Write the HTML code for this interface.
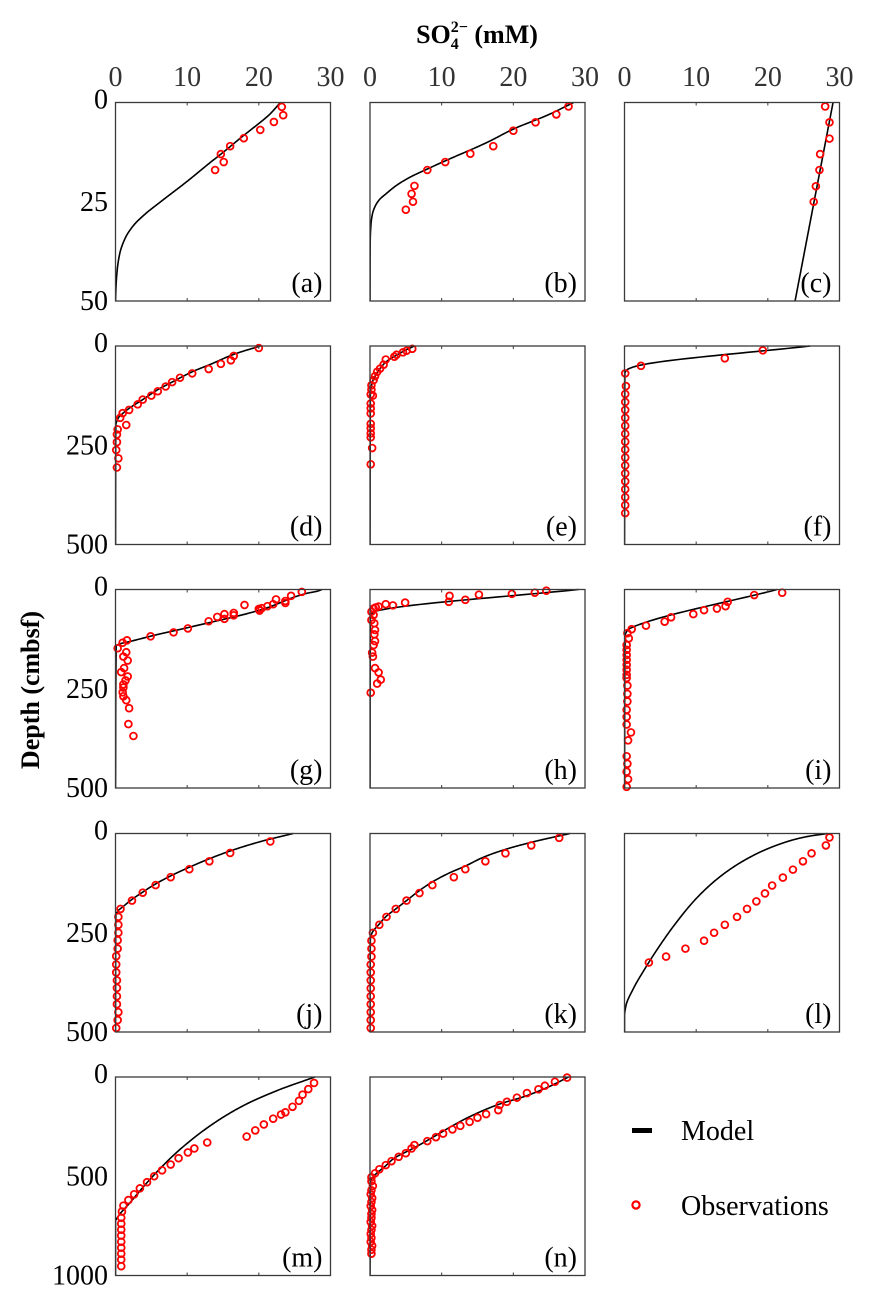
<!DOCTYPE html>
<html><head><meta charset="utf-8">
<style>
html,body{margin:0;padding:0;background:#fff;}
svg{display:block;}
text{font-family:"Liberation Serif","Times New Roman",serif;}
</style></head>
<body>
<svg id="fig" width="872" height="1300" viewBox="0 0 872 1300" xmlns="http://www.w3.org/2000/svg" font-family="Liberation Serif, serif">
<text x="477" y="43" text-anchor="middle" font-weight="bold" font-size="26">SO<tspan font-size="16" dy="6">4</tspan><tspan font-size="16" dx="-8" dy="-17">2−</tspan><tspan dy="11"> (mM)</tspan></text>
<text transform="translate(39,690) rotate(-90)" text-anchor="middle" font-weight="bold" font-size="26">Depth (cmbsf)</text>
<g id="panels"></g>
<g>
<rect x="632" y="1128" width="20" height="5" fill="#000"/>
<text x="681" y="1140" font-size="28">Model</text>
<circle cx="636" cy="1205" r="3.6" fill="none" stroke="#f00" stroke-width="2.2"/>
<text x="681" y="1215" font-size="28">Observations</text>
</g>
</svg>
<script>
// ---- data ----
const xTicks = [0, 10, 20, 30];
const panelLabels = ["a","b","c","d","e","f","g","h","i","j","k","l","m","n"];
const depthMax = [50,50,50,500,500,500,500,500,500,500,500,500,1000,1000];
const depthTickLabels = [["0","25","50"],["0","250","500"],["0","250","500"],["0","250","500"],["0","500","1000"]];

const modelDepthA = [0,3,6,9,12,15,20,25,28,31,34,38,42,46,50];
const modelConcA  = [23,21.5,19.5,17.4,15.4,13.3,9.9,6.3,4.2,2.5,1.4,0.6,0.25,0.08,0];
const obsDepthA = [1.1,3.2,4.9,6.9,9.0,11.0,13.0,15.0,17.0];
const obsConcA  = [23.2,23.4,22.1,20.2,17.9,16.0,14.7,15.1,13.9];

const modelDepthB = [0,3,6.7,10,14.7,17,18.8,21,22.9,24.5,26.2,28,30.4,35,50];
const modelConcB  = [28.4,25,20,16.4,10.5,7.7,5.6,3.6,2.3,1.3,0.7,0.35,0.15,0.03,0];
const obsDepthB = [1.0,3.0,5.0,7.1,11.0,12.9,15.0,17.0,21.0,23.0,25.0,27.0];
const obsConcB  = [27.7,26.0,23.1,20.0,17.2,14.0,10.5,8.0,6.2,5.8,6.0,5.0];

const modelDepthC = [0,50];
const modelConcC  = [29.1,23.8];
const obsDepthC = [1.0,5.0,9.1,13.0,17.0,21.1,25.0];
const obsConcC  = [28.0,28.6,28.6,27.3,27.2,26.7,26.4];

const modelDepthD = [0,21,45,65,90,110,135,157,170,181,200,500];
const modelConcD  = [20.2,16.5,13.4,10.7,8.0,5.9,3.8,1.9,1.0,0.4,0.05,0];
const obsDepthD = [5,25,36,45,58,69,80,91,102,114,125,135,147,161,169,181,199,210,223,242,262,283,306];
const obsConcD  = [20.0,16.5,16.1,14.7,13.0,10.7,9.0,7.9,7.0,5.9,5.0,3.8,3.1,1.9,1.0,0.65,1.5,0.3,0.2,0.2,0.1,0.4,0.2];

const modelDepthE = [0,10,20,35,50,70,90,120,500];
const modelConcE  = [6.2,5.0,4.0,2.6,1.7,0.9,0.35,0.05,0];
const obsDepthE = [7,12,16,22,27,34,47,57,65,76,86,99,110,122,125,145,157,170,196,207,220,230,257,298];
const obsConcE  = [5.9,5.1,4.6,3.7,3.4,2.2,1.9,1.4,1.0,0.7,0.5,0.2,0.2,0.1,0.4,0.1,0.1,0.1,0.1,0.1,0.1,0.1,0.3,0.1];

const modelDepthF = [0,48,55,60,69,500];
const modelConcF  = [25.9,2.3,0.9,0.35,0.05,0];
const obsDepthF = [11,31,50,69,101,121,141,161,181,201,221,241,261,281,301,321,341,361,381,401,421];
const obsConcF  = [19.3,14.0,2.3,0.1,0.2,0.1,0.1,0.1,0.1,0.1,0.1,0.1,0.1,0.1,0.1,0.1,0.1,0.1,0.1,0.1,0.1];

const modelDepthG = [0,4,10,50,96,115,131,137,142,500];
const modelConcG  = [28.8,28.2,26.6,20.5,10.1,5.5,2.0,0.6,0.1,0];
const obsDepthG = [6,16,29,34,25,37,42,47,53,49,39,59,65,62,74,69,80,98,108,118,128,134,148,158,169,179,198,208,219,229,239,247,259,269,279,299,339,369];
const obsConcG  = [26.0,24.5,23.7,23.7,22.4,22.0,21.2,20.4,20.1,20.0,18.0,16.5,16.5,15.2,15.2,14.2,13.0,10.1,8.1,4.9,1.6,1.0,0.3,1.5,1.1,1.7,1.2,0.8,1.7,1.4,1.1,1.1,1.0,1.1,1.5,1.9,1.8,2.5];

const modelDepthH = [0,50,56,62,70,500];
const modelConcH  = [29.1,2.0,0.6,0.2,0.05,0];
const obsDepthH = [3,8,11,13,16,26,31,33,40,37,43,45,48,56,64,77,85,102,113,130,140,159,169,198,209,227,237,260];
const obsConcH  = [24.6,23.0,19.8,15.2,11.1,13.3,11.0,4.9,3.2,2.2,1.2,0.8,0.5,0.2,0.5,0.2,0.6,0.7,0.6,0.7,0.5,0.3,0.4,0.7,1.2,1.5,1.0,0.1];

const modelDepthI = [0,96,100,106,115,500];
const modelConcI  = [21.3,1.0,0.6,0.3,0.1,0];
const obsDepthI = [8,14,31,42,48,52,62,70,81,91,100,110,123,140,152,165,177,190,202,215,223,242,263,282,303,321,340,360,380,420,439,459,478,497];
const obsConcI  = [22.0,18.1,14.4,14.1,12.9,11.1,9.6,6.5,5.6,3.0,1.0,0.4,0.6,0.3,0.3,0.3,0.3,0.3,0.3,0.3,0.3,0.4,0.4,0.4,0.3,0.3,0.3,0.9,0.5,0.3,0.4,0.3,0.5,0.3];

const modelDepthJ = [0,20,44,65,85,105,127,150,166,185,194,206,500];
const modelConcJ  = [24.8,20.3,16.0,12.9,10.3,7.9,5.6,3.6,2.3,1.0,0.4,0.05,0];
const obsDepthJ = [20,49,70,90,110,130,149,169,190,210,230,250,269,290,309,330,350,370,389,410,430,450,470,490];
const obsConcJ  = [21.6,16.0,13.1,10.3,7.7,5.6,3.8,2.3,0.7,0.4,0.4,0.4,0.3,0.3,0.1,0.1,0.1,0.2,0.2,0.2,0.2,0.4,0.3,0.1];

const modelDepthK = [0,20,40,60,82,100,122,145,169,190,208,230,250,265,500];
const modelConcK  = [27.9,23.0,18.9,15.8,13.3,11.0,8.7,6.8,5.1,3.6,2.3,1.2,0.3,0.05,0];
const obsDepthK = [11,30,50,70,90,110,130,150,169,190,210,230,250,270,290,310,330,350,370,390,410,430,450,470,490];
const obsConcK  = [26.4,22.5,18.9,16.1,13.3,11.7,8.7,6.9,5.1,3.6,2.3,1.3,0.4,0.2,0.2,0.2,0.1,0.1,0.1,0.1,0.1,0.1,0.1,0.1,0.1];

const modelDepthL = [0,8,21,55,105,164,232,291,342,392,434,460,500];
const modelConcL  = [28.3,25.4,22.6,18.0,13.6,10.0,6.9,4.6,2.8,1.2,0.2,0,0];
const obsDepthL = [10,30,50,70,91,111,131,151,171,190,210,230,250,270,290,310,325];
const obsConcL  = [28.6,28.1,26.1,24.9,23.5,22.1,20.6,19.6,18.4,17.1,15.7,14.0,12.5,11.1,8.5,5.8,3.4];

const modelDepthM = [0,69,145,246,381,516,634,701,727,1000];
const modelConcM  = [27.8,22.5,17.8,13.2,8.5,4.8,2.0,0.4,0,0];
const obsDepthM = [30,61,89,120,150,178,189,210,239,269,300,330,360,380,409,441,470,500,530,561,591,620,648,678,709,739,769,799,830,860,890,920,953];
const obsConcM  = [27.7,26.9,26.1,25.6,24.7,23.7,23.1,22.0,20.7,19.5,18.3,12.8,11.0,10.1,8.8,7.7,6.5,5.4,4.4,3.4,2.6,1.8,1.1,0.9,0.8,0.8,0.8,0.8,0.8,0.8,0.8,0.8,0.8];

const modelDepthN = [0,50,100,136,200,250,303,360,411,450,486,505,520,1000];
const modelConcN  = [27.7,24.9,21.4,18.1,13.9,11.3,8.8,6.0,3.3,2.1,0.9,0.4,0.1,0];
const obsDepthN = [3,24,44,62,81,104,125,141,167,187,205,226,246,264,285,303,323,343,360,384,402,424,444,465,485,505,525,549,571,590,610,630,650,670,690,710,730,750,770,790,810,830,850,870,890];
const obsConcN  = [27.5,25.8,24.4,23.5,21.9,20.5,19.1,18.1,17.9,16.2,15.0,13.9,12.6,11.5,10.2,9.2,8.0,6.2,5.8,5.0,4.0,3.0,2.2,1.3,0.7,0.2,0.2,0.4,0.2,0.1,0.3,0.2,0.1,0.3,0.2,0.2,0.1,0.3,0.2,0.1,0.2,0.1,0.3,0.2,0.2];

const modelDepths = [modelDepthA,modelDepthB,modelDepthC,modelDepthD,modelDepthE,modelDepthF,modelDepthG,modelDepthH,modelDepthI,modelDepthJ,modelDepthK,modelDepthL,modelDepthM,modelDepthN];
const modelConcs  = [modelConcA,modelConcB,modelConcC,modelConcD,modelConcE,modelConcF,modelConcG,modelConcH,modelConcI,modelConcJ,modelConcK,modelConcL,modelConcM,modelConcN];
const obsDepths = [obsDepthA,obsDepthB,obsDepthC,obsDepthD,obsDepthE,obsDepthF,obsDepthG,obsDepthH,obsDepthI,obsDepthJ,obsDepthK,obsDepthL,obsDepthM,obsDepthN];
const obsConcs  = [obsConcA,obsConcB,obsConcC,obsConcD,obsConcE,obsConcF,obsConcG,obsConcH,obsConcI,obsConcJ,obsConcK,obsConcL,obsConcM,obsConcN];

// ---- layout ----
const NS = "http://www.w3.org/2000/svg";
const colLeft = [115.5, 370, 624.5];
const rowTop = [102.5, 346, 589.5, 833.5, 1077];
const W = 215, H = 198.5;
const FONT = '"Liberation Serif", "Times New Roman", serif';
const root = document.getElementById('panels');
function mk(tag, attrs, parent){
  const e = document.createElementNS(NS, tag);
  for (const k in attrs) e.setAttribute(k, attrs[k]);
  parent.appendChild(e); return e;
}
// monotone cubic (Fritsch-Carlson) interpolation of conc as function of depth
function monotoneSample(xs, ys, n){
  const m = xs.length;
  if (m < 3) return xs.map((x,i)=>[x, ys[i]]);
  const dx = [], s = [];
  for (let i=0;i<m-1;i++){ dx.push(xs[i+1]-xs[i]); s.push((ys[i+1]-ys[i])/dx[i]); }
  const t = new Array(m);
  t[0] = s[0]; t[m-1] = s[m-2];
  for (let i=1;i<m-1;i++){
    if (s[i-1]*s[i] <= 0) t[i] = 0;
    else { const w1 = 2*dx[i]+dx[i-1], w2 = dx[i]+2*dx[i-1]; t[i] = (w1+w2)/(w1/s[i-1]+w2/s[i]); }
  }
  const out = [];
  for (let i=0;i<m-1;i++){
    for (let k=0;k<n;k++){
      const u = k/n, h = dx[i];
      const h00 = 2*u*u*u-3*u*u+1, h10 = u*u*u-2*u*u+u, h01 = -2*u*u*u+3*u*u, h11 = u*u*u-u*u;
      out.push([xs[i]+u*h, h00*ys[i]+h10*h*t[i]+h01*ys[i+1]+h11*h*t[i+1]]);
    }
  }
  out.push([xs[m-1], ys[m-1]]);
  return out;
}
panelLabels.forEach((lab, idx) => {
  const r = Math.floor(idx/3), c = idx%3;
  const x0 = colLeft[c], y0 = rowTop[r];
  const dm = depthMax[idx];
  const xs = v => x0 + v/30*W;
  const ys = v => y0 + v/dm*H;
  const g = mk('g', {}, root);
  
  
  const cp = mk('clipPath', {id:'clip'+idx}, g);
  mk('rect', {x:x0, y:y0-1, width:W, height:H+2}, cp);
  const samp = monotoneSample(modelDepths[idx], modelConcs[idx], 24);
  const d = "M" + samp.map(p=>xs(Math.max(0,p[1])).toFixed(2)+","+ys(p[0]).toFixed(2)).join(" L");
  const line = mk('path', {d:d, fill:'none', stroke:'#000', 'stroke-width':1.6, 'stroke-linejoin':'round', 'clip-path':'url(#clip'+idx+')'}, g);
  
  
  obsDepths[idx].forEach((dd,i)=>{
    const ci = mk('circle', {cx:xs(obsConcs[idx][i]).toFixed(2), cy:ys(dd).toFixed(2), r:3.4, fill:'none', stroke:'#f00', 'stroke-width':1.8}, g);
    
    
  });
  const fr = mk('rect', {x:x0, y:y0, width:W, height:H, fill:'none', stroke:'#3a3a3a', 'stroke-width':1.3}, g);
  
  
  xTicks.slice(1,3).forEach(t=>{
    mk('line', {x1:xs(t), x2:xs(t), y1:y0, y2:y0+3, stroke:'#3a3a3a', 'stroke-width':1}, g);
    mk('line', {x1:xs(t), x2:xs(t), y1:y0+H, y2:y0+H-3, stroke:'#3a3a3a', 'stroke-width':1}, g);
  });
  if (r === 0){
    xTicks.forEach(t=>{
      const tl = mk('text', {x:xs(t), y:86, 'text-anchor':'middle', 'font-size':28, fill:'#333', 'font-family':FONT}, g);
      tl.textContent = t;
      
      
    });
  }
  if (c === 0){
    const labs = depthTickLabels[r];
    [0,0.5,1].forEach((f,i)=>{
      const ty = mk('text', {x:108, y:y0 + f*H + (i===0?6:9), 'text-anchor':'end', 'font-size':28, fill:'#000', 'font-family':FONT}, g);
      ty.textContent = labs[i];
      
      
    });
  }
  const pl = mk('text', {x:x0+W-8, y:y0+H-9, 'text-anchor':'end', 'font-size':28, 'font-family':FONT}, g);
  pl.textContent = '(' + lab + ')';
  
  
});
</script>
</body></html>
